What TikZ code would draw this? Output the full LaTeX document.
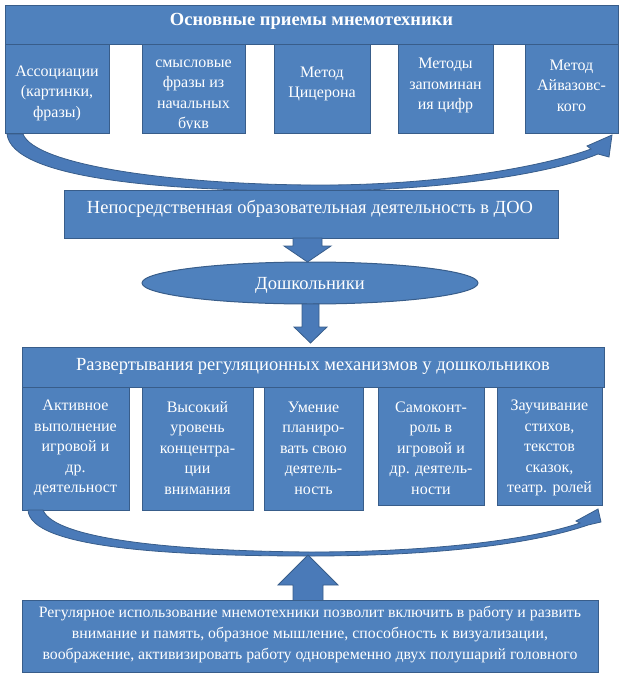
\documentclass[tikz,border=0pt]{standalone}
\usepackage{fontspec}
\setmainfont{Liberation Serif}
\usetikzlibrary{shapes.geometric}
\definecolor{boxfill}{HTML}{4F81BD}
\definecolor{boxline}{HTML}{385D8A}
\definecolor{arrfill}{HTML}{4A7AB8}
\begin{document}
\begin{tikzpicture}[x=1pt,y=-1pt,
  bx/.style={draw=boxline,line width=1pt,fill=boxfill},
  txt/.style={text=white,align=center,inner sep=0pt,font=\fontsize{16}{20.5}\selectfont},
  bigtxt/.style={text=white,align=center,inner sep=0pt,font=\fontsize{18.5}{22}\selectfont},
  smalltxt/.style={text=white,align=center,inner sep=0pt,font=\fontsize{15.8}{21}\selectfont},
  arr/.style={draw=boxline,line width=0.8pt,fill=arrfill,line join=miter}]
\useasboundingbox (0,0) rectangle (623,675);

% ---------- top group ----------
\draw[bx] (5,5) rectangle (618,44);
\node[bigtxt,font=\fontsize{18.5}{22}\selectfont\bfseries] (title) at (311.5,21) {Основные приемы мнемотехники};

\draw[bx] (5,44) rectangle (109,133);
\node[txt] (t1) at (57,93) {Ассоциации\\(картинки,\\фразы)};
\draw[bx] (142,44) rectangle (245,133);
\begin{scope}
\clip (142,44) rectangle (245,128.5);
\node[txt] (t2) at (193.5,96) {смысловые\\фразы из\\начальных\\букв};
\end{scope}
\draw[bx] (274,44) rectangle (370,133);
\node[txt] (t3) at (322,84) {Метод\\Цицерона};
\draw[bx] (398,44) rectangle (493,133);
\node[txt] (t4) at (445.5,85.5) {Методы\\запоминан\\ия цифр};
\draw[bx] (525,44) rectangle (618,133);
\node[txt] (t5) at (571.5,85.5) {Метод\\Айвазовс-\\кого};

% curved arrow 1
\draw[arr] (7,134) -- (23,134)
  .. controls (35,165) and (170,184) .. (311,185)
  .. controls (440,186) and (545,166) .. (591,149)
  -- (587,146) -- (612,135) -- (609,157) -- (598,154)
  .. controls (550,174) and (440,191) .. (311,191)
  .. controls (160,191) and (12,178) .. (7,134) -- cycle;

% ---------- middle ----------
\draw[bx] (64,190) rectangle (558,238);
\node[bigtxt] (nod) at (310,209) {Непосредственная образовательная деятельность в ДОО};

\node[ellipse,draw=boxline,line width=1pt,fill=boxfill,minimum width=336pt,minimum height=42pt,inner sep=0pt] (doshk) at (310,283) {};
\node[bigtxt] at (310,285) {Дошкольники};

\draw[arr] (293,238) -- (322,238) -- (322,246) -- (331,246) -- (307.5,262) -- (284,246) -- (293,246) -- cycle;
\draw[arr] (302,304) -- (319,304) -- (319,327) -- (327,327) -- (310.5,343) -- (294,327) -- (302,327) -- cycle;

% ---------- lower group ----------
\draw[bx] (22,347) rectangle (604,387);
\node[bigtxt] (razv) at (313,366) {Развертывания регуляционных механизмов у дошкольников};

\draw[bx] (22,387) rectangle (129,510);
\node[txt] (b1) at (75.5,448) {Активное\\выполнение\\игровой и\\др.\\деятельност};
\draw[bx] (142,387) rectangle (253,510);
\node[txt] (b2) at (197.5,448) {Высокий\\уровень\\концентра-\\ции\\внимания};
\draw[bx] (264,387) rectangle (363,510);
\node[txt] (b3) at (313.5,448) {Умение\\планиро-\\вать свою\\деятель-\\ность};
\draw[bx] (378,387) rectangle (484,505);
\node[txt] (b4) at (431,448) {Самоконт-\\роль в\\игровой и\\др. деятель-\\ности};
\draw[bx] (497,387) rectangle (602,505);
\node[txt] (b5) at (549.5,448) {Заучивание\\стихов,\\текстов\\сказок,\\театр. ролей};

% curved arrow 2
\draw[arr] (28,510) -- (43,510)
  .. controls (55,540) and (180,551) .. (310,552)
  .. controls (430,552) and (530,540) .. (580,523)
  -- (576,521) -- (598,509) -- (601,522) -- (588,525)
  .. controls (530,545) and (430,556) .. (310,556)
  .. controls (170,556) and (30,548) .. (28,510) -- cycle;

% up arrow
\draw[arr] (293,600) -- (293,585) -- (278,585) -- (308,555) -- (338,585) -- (323,585) -- (323,600);

\draw[bx] (22,600) rectangle (598,672);
\node[smalltxt] (reg) at (310,635) {Регулярное использование мнемотехники позволит включить в работу и развить\\внимание и память, образное мышление, способность к визуализации,\\воображение, активизировать работу одновременно двух полушарий головного};
\end{tikzpicture}
\end{document}
